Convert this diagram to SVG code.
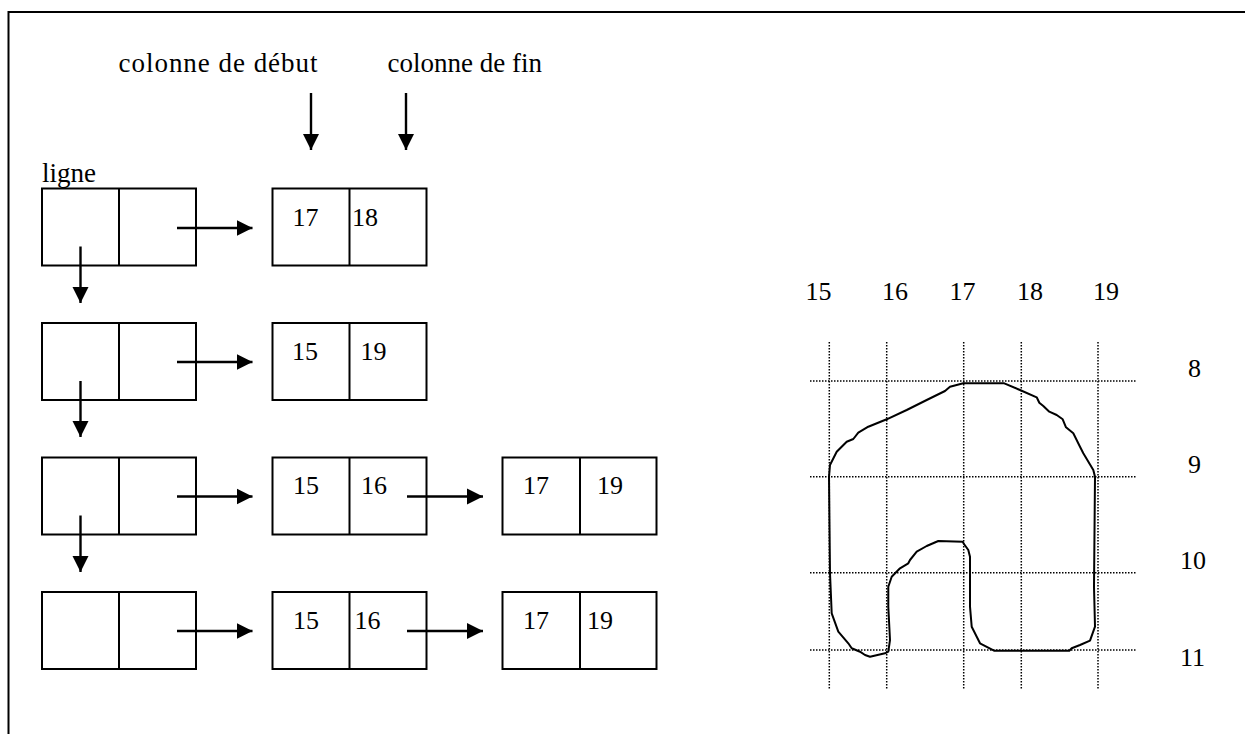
<svg xmlns="http://www.w3.org/2000/svg" width="1245" height="734" viewBox="0 0 1245 734">
<style>
.t{font-family:"Liberation Serif","Times New Roman",serif;font-size:27px;fill:#000}
.n{font-family:"Liberation Serif","Times New Roman",serif;font-size:26px;fill:#000}
.box{fill:#fff;stroke:#000;stroke-width:2}
.div{stroke:#000;stroke-width:2}
.arr{stroke:#000;stroke-width:2.4;fill:none;marker-end:url(#ah)}
.grid{stroke:#000;stroke-width:1.5;stroke-dasharray:1.5 1.5;fill:none}
.frame{stroke:#000;stroke-width:2;fill:none}
</style>
<defs>
<marker id="ah" markerUnits="userSpaceOnUse" markerWidth="17" markerHeight="17" viewBox="0 0 17 17" refX="16" refY="8.5" orient="auto">
<path d="M0,0.5 L16,8.5 L0,16.5 z" fill="#000"/>
</marker>
</defs>
<rect width="1245" height="734" fill="#fff"/>
<g id="frame"><path class="frame" d="M8.5,734 V12 H1245"/></g>

<g id="labels">
<text class="t" x="118.5" y="72" textLength="199" lengthAdjust="spacing">colonne de début</text>
<text class="t" x="387.5" y="72">colonne de fin</text>
<text class="t" x="42" y="182">ligne</text>
</g>

<g id="row1">
<rect class="box" x="42" y="188.5" width="154" height="77"/><line class="div" x1="119" y1="188.5" x2="119" y2="265.5"/>
<rect class="box" x="272.5" y="188.5" width="154" height="77"/><line class="div" x1="349.5" y1="188.5" x2="349.5" y2="265.5"/>
<text class="n" x="292.5" y="225.5">17</text><text class="n" x="352" y="225.5">18</text>
</g>
<g id="row2">
<rect class="box" x="42" y="323" width="154" height="77"/><line class="div" x1="119" y1="323" x2="119" y2="400"/>
<rect class="box" x="272.5" y="323" width="154" height="77"/><line class="div" x1="349.5" y1="323" x2="349.5" y2="400"/>
<text class="n" x="292" y="359.5">15</text><text class="n" x="360.5" y="359.5">19</text>
</g>
<g id="row3">
<rect class="box" x="42" y="457.5" width="154" height="77"/><line class="div" x1="119" y1="457.5" x2="119" y2="534.5"/>
<rect class="box" x="272.5" y="457.5" width="154" height="77"/><line class="div" x1="349.5" y1="457.5" x2="349.5" y2="534.5"/>
<text class="n" x="293" y="494">15</text><text class="n" x="361" y="494">16</text>
<rect class="box" x="502.5" y="457.5" width="154" height="77"/><line class="div" x1="580" y1="457.5" x2="580" y2="534.5"/>
<text class="n" x="523" y="494">17</text><text class="n" x="597" y="494">19</text>
</g>
<g id="row4">
<rect class="box" x="42" y="592" width="154" height="77"/><line class="div" x1="119" y1="592" x2="119" y2="669"/>
<rect class="box" x="272.5" y="592" width="154" height="77"/><line class="div" x1="349.5" y1="592" x2="349.5" y2="669"/>
<text class="n" x="293" y="628.5">15</text><text class="n" x="354.5" y="628.5">16</text>
<rect class="box" x="502.5" y="592" width="154" height="77"/><line class="div" x1="580" y1="592" x2="580" y2="669"/>
<text class="n" x="523" y="628.5">17</text><text class="n" x="587" y="628.5">19</text>
</g>

<g id="connectors">
<line class="arr" x1="311" y1="93" x2="311" y2="150"/>
<line class="arr" x1="406" y1="93" x2="406" y2="150"/>
<line class="arr" x1="177" y1="228" x2="252.5" y2="228"/>
<line class="arr" x1="177" y1="362" x2="252.5" y2="362"/>
<line class="arr" x1="177" y1="496.5" x2="252.5" y2="496.5"/>
<line class="arr" x1="177" y1="631" x2="252.5" y2="631"/>
<line class="arr" x1="407" y1="496.5" x2="483" y2="496.5"/>
<line class="arr" x1="407" y1="631" x2="483" y2="631"/>
<line class="arr" x1="80.5" y1="246.5" x2="80.5" y2="303"/>
<line class="arr" x1="80.5" y1="381" x2="80.5" y2="437"/>
<line class="arr" x1="80.5" y1="515.5" x2="80.5" y2="572"/>
</g>

<g id="grid">
<line class="grid" x1="829.3" y1="342" x2="829.3" y2="690"/>
<line class="grid" x1="886.7" y1="342" x2="886.7" y2="690"/>
<line class="grid" x1="963.7" y1="342" x2="963.7" y2="690"/>
<line class="grid" x1="1021.3" y1="342" x2="1021.3" y2="690"/>
<line class="grid" x1="1098" y1="342" x2="1098" y2="690"/>
<line class="grid" x1="810" y1="381" x2="1137" y2="381"/>
<line class="grid" x1="810" y1="476.7" x2="1137" y2="476.7"/>
<line class="grid" x1="810" y1="572.7" x2="1137" y2="572.7"/>
<line class="grid" x1="810" y1="650" x2="1137" y2="650"/>
</g>

<g id="grid-labels">
<text class="n" x="805.5" y="300">15</text>
<text class="n" x="882" y="300">16</text>
<text class="n" x="949.5" y="300">17</text>
<text class="n" x="1017" y="300">18</text>
<text class="n" x="1093" y="300">19</text>
<text class="n" x="1188" y="377">8</text>
<text class="n" x="1188" y="473">9</text>
<text class="n" x="1180" y="569">10</text>
<text class="n" x="1180" y="666">11</text>
</g>

<g id="shape">
<path fill="none" stroke="#000" stroke-width="2" stroke-linejoin="round" stroke-linecap="round" d="M963.3,383.3 L1004.3,383.3 L1020,390 L1036.7,397.3 L1039.3,402.7 L1043.3,406 L1049.3,411.7 L1056.7,415 L1062.7,419.3 L1066,427.3 L1073.3,433.3 L1080,446.7 L1083.3,453.3 L1093.3,470 L1095,476.7 L1094,586.7 L1095,626.7 L1090,640.7 L1080,645 L1071.7,648.3 L1069.3,650.7 L994,650.7 L980,643.3 L971.7,626.7 L970,606.7 L970,556.7 L968.3,550 L964,544 L962.7,541.7 L938.3,541 L926.7,546 L916.7,551.7 L910,560 L908.3,563.3 L900,568.3 L891.7,576.7 L888.3,586.7 L888.3,606.7 L890,640 L888.3,651.7 L885,653.3 L870,656.7 L865,655 L860,651.7 L851.7,648.3 L848.3,643.3 L838.3,631.7 L831.7,613.3 L830,573.3 L829,476.7 L830,465 L836.7,451.7 L846.7,441.7 L853.3,439 L858.3,432.7 L868.3,426.7 L886.7,419.3 L906.7,410 L926.7,400 L945,391 L950,386.7 Z"/>
</g>
</svg>
